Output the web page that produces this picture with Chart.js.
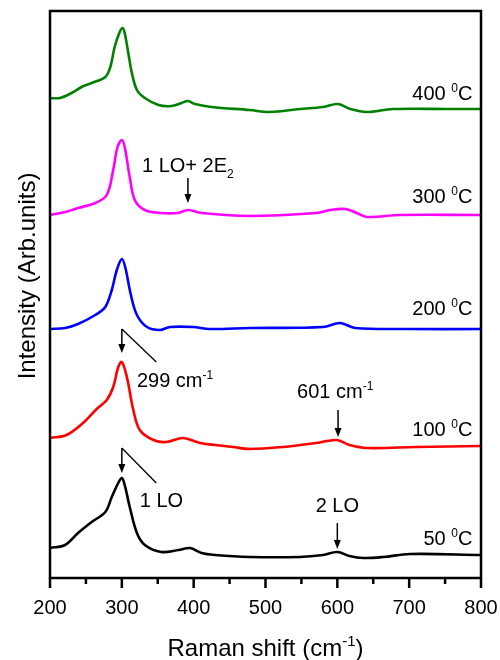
<!DOCTYPE html>
<html>
<head>
<meta charset="utf-8">
<script src="https://cdn.jsdelivr.net/npm/chart.js@4.4.1/dist/chart.umd.min.js"></script>
<style>
  html, body { margin: 0; padding: 0; background: #fff; }
  #wrap { width: 500px; height: 660px; }
</style>
</head>
<body>
<div id="wrap"><canvas id="ramanChart"></canvas></div>
<script>
// Raman spectra, stacked with an offset (arb. units)
const shift50 = [200, 221, 239, 258, 277, 286, 295, 300, 304, 311, 321, 332, 355, 379, 395, 411, 430, 478, 548, 580, 600, 617, 636, 664, 701, 800];
const int50   = [30, 33, 45, 56, 66, 81, 95, 100, 93, 71, 45, 33, 26, 28, 30, 25, 23, 21, 21, 23, 26, 22, 20, 21, 24, 23];

const shift100 = [200, 223, 246, 265, 279, 288, 295, 300, 307, 316, 325, 344, 362, 385, 409, 455, 478, 525, 571, 599, 617, 641, 710, 800];
const int100   = [140, 143, 155, 169, 178, 191, 211, 216, 201, 168, 148, 138, 136, 140, 135, 131, 129, 131, 135, 138, 133, 130, 131, 132];

const shift200 = [200, 221, 239, 263, 277, 286, 293, 300, 305, 312, 321, 335, 353, 367, 399, 422, 478, 580, 604, 625, 700, 800];
const int200   = [249, 250, 254, 263, 271, 288, 308, 319, 310, 285, 263, 251, 248, 251, 251, 249, 250, 251, 255, 250, 249, 249];

const shift300 = [200, 221, 239, 263, 279, 288, 294, 300, 304, 311, 318, 332, 355, 378, 392, 411, 478, 571, 590, 611, 627, 641, 687, 800];
const int300   = [363, 366, 370, 375, 383, 408, 431, 438, 431, 401, 378, 368, 365, 365, 368, 365, 362, 365, 368, 369, 365, 361, 363, 363];

const shift400 = [200, 214, 230, 244, 258, 277, 284, 290, 297, 301, 304, 309, 314, 321, 332, 351, 369, 383, 392, 402, 425, 478, 506, 548, 580, 601, 618, 641, 677, 757, 800];
const int400   = [480, 480, 485, 491, 495, 501, 511, 531, 546, 550, 545, 525, 505, 488, 480, 473, 472, 475, 477, 474, 471, 468, 466, 469, 471, 474, 469, 466, 469, 469, 469];

const xTicks = [200, 300, 400, 500, 600, 700, 800];

// temperature labels (right aligned at tempLabelX)
const tempNames = ['400', '300', '200', '100', '50'];
const tempLabelY = [478, 375, 263, 142, 33];
const tempLabelX = 788;

// peak marks: arrow x, arrow top, arrow tip
const arrowX   = [392, 300, 601, 300, 600];
const arrowTop = [400, 249, 168, 130, 55];
const arrowTip = [375, 225, 141, 105, 29];

function xy(xs, ys) {
  return xs.map((x, i) => ({ x: x, y: ys[i] }));
}

const FONT = 'Arial, "Liberation Sans", Helvetica, sans-serif';

function drawRich(ctx, segs, x, y, align, size) {
  let w = 0;
  segs.forEach(s => {
    ctx.font = ((s.sup || s.sub) ? Math.round(size * 0.62) : size) + 'px ' + FONT;
    s.w = ctx.measureText(s.t).width;
    w += s.w;
  });
  let cx = align === 'right' ? x - w : (align === 'center' ? x - w / 2 : x);
  ctx.textAlign = 'left';
  ctx.textBaseline = 'alphabetic';
  segs.forEach(s => {
    ctx.font = ((s.sup || s.sub) ? Math.round(size * 0.62) : size) + 'px ' + FONT;
    let dy = s.sup ? -size * 0.42 : (s.sub ? size * 0.28 : 0);
    ctx.fillText(s.t, cx, y + dy);
    cx += s.w;
  });
}

function drawArrow(ctx, px, y1, y2) {
  ctx.beginPath();
  ctx.moveTo(px, y1);
  ctx.lineTo(px, y2 - 8);
  ctx.stroke();
  ctx.beginPath();
  ctx.moveTo(px - 3.5, y2 - 9);
  ctx.lineTo(px + 3.5, y2 - 9);
  ctx.lineTo(px, y2);
  ctx.closePath();
  ctx.fill();
}

const decorPlugin = {
  id: 'decor',
  afterDatasetsDraw(chart) {
    const ctx = chart.ctx;
    const a = chart.chartArea;
    const xs = chart.scales.x;
    const ys = chart.scales.y;
    ctx.save();
    ctx.fillStyle = '#000';
    ctx.strokeStyle = '#000';

    // frame
    ctx.lineWidth = 2.5;
    ctx.strokeRect(a.left, a.top, a.right - a.left, a.bottom - a.top);

    // ticks below the bottom axis, long at every 100, short in between
    ctx.lineWidth = 2.5;
    for (let v = 200; v <= 800; v += 50) {
      const px = xs.getPixelForValue(v);
      const len = v % 100 === 0 ? 10 : 6;
      ctx.beginPath();
      ctx.moveTo(px, a.bottom);
      ctx.lineTo(px, a.bottom + len);
      ctx.stroke();
    }

    // temperature labels
    tempNames.forEach((t, i) => {
      drawRich(ctx, [{ t: t + ' ' }, { t: '0', sup: true }, { t: 'C' }],
        xs.getPixelForValue(tempLabelX), ys.getPixelForValue(tempLabelY[i]), 'right', 20);
    });

    // arrows
    ctx.lineWidth = 1.5;
    arrowX.forEach((v, i) => {
      drawArrow(ctx, xs.getPixelForValue(v), ys.getPixelForValue(arrowTop[i]), ys.getPixelForValue(arrowTip[i]));
    });

    // leader lines from the 299 cm-1 and 1 LO arrows
    ctx.lineWidth = 1.3;
    [[300, 249, 348, 216], [300, 130, 348, 95]].forEach(l => {
      ctx.beginPath();
      ctx.moveTo(xs.getPixelForValue(l[0]), ys.getPixelForValue(l[1]));
      ctx.lineTo(xs.getPixelForValue(l[2]), ys.getPixelForValue(l[3]));
      ctx.stroke();
    });

    // peak labels
    drawRich(ctx, [{ t: '1 LO+ 2E' }, { t: '2', sub: true }],
      xs.getPixelForValue(328), ys.getPixelForValue(406), 'left', 20);
    drawRich(ctx, [{ t: '299 cm' }, { t: '-1', sup: true }],
      xs.getPixelForValue(321), ys.getPixelForValue(191), 'left', 20);
    drawRich(ctx, [{ t: '1 LO' }],
      xs.getPixelForValue(325), ys.getPixelForValue(71), 'left', 20);
    drawRich(ctx, [{ t: '601 cm' }, { t: '-1', sup: true }],
      xs.getPixelForValue(597), ys.getPixelForValue(180), 'center', 20);
    drawRich(ctx, [{ t: '2 LO' }],
      xs.getPixelForValue(600), ys.getPixelForValue(66), 'center', 20);

    // x axis title
    drawRich(ctx, [{ t: 'Raman shift (cm' }, { t: '-1', sup: true }, { t: ')' }],
      (a.left + a.right) / 2, a.bottom + 78, 'center', 24);

    // y axis title, rotated
    ctx.save();
    ctx.translate(35, 276);
    ctx.rotate(-Math.PI / 2);
    drawRich(ctx, [{ t: 'Intensity (Arb.units)' }], 0, 0, 'center', 24);
    ctx.restore();

    ctx.restore();
  }
};

function series(label, xsArr, ysArr, color) {
  return {
    label: label,
    data: xy(xsArr, ysArr),
    borderColor: color,
    backgroundColor: color,
    borderWidth: 2.6,
    pointRadius: 0,
    fill: false,
    tension: 0.35
  };
}

const ctx = document.getElementById('ramanChart').getContext('2d');
new Chart(ctx, {
  type: 'line',
  data: {
    datasets: [
      series('50 °C', shift50, int50, '#000000'),
      series('100 °C', shift100, int100, '#ff0000'),
      series('200 °C', shift200, int200, '#0000ff'),
      series('300 °C', shift300, int300, '#ff00ff'),
      series('400 °C', shift400, int400, '#008000')
    ]
  },
  options: {
    responsive: true,
    maintainAspectRatio: false,
    animation: false,
    layout: { padding: { top: 11, right: 19, left: 0, bottom: 0 } },
    plugins: {
      legend: { display: false },
      tooltip: { enabled: false }
    },
    scales: {
      x: {
        type: 'linear',
        min: 200,
        max: 800,
        afterBuildTicks: (scale) => { scale.ticks = xTicks.map(v => ({ value: v })); },
        afterFit: (scale) => {
          scale.height = 82;
          scale.paddingLeft = 0;
          scale.paddingRight = 0;
        },
        grid: { display: false },
        border: { display: false },
        ticks: {
          autoSkip: false,
          maxRotation: 0,
          padding: 10,
          color: '#000',
          font: { family: FONT, size: 20 }
        }
      },
      y: {
        min: 0,
        max: 567,
        afterFit: (scale) => { scale.width = 50; },
        grid: { display: false },
        border: { display: false },
        ticks: { display: false }
      }
    }
  },
  plugins: [decorPlugin]
});
</script>
</body>
</html>
